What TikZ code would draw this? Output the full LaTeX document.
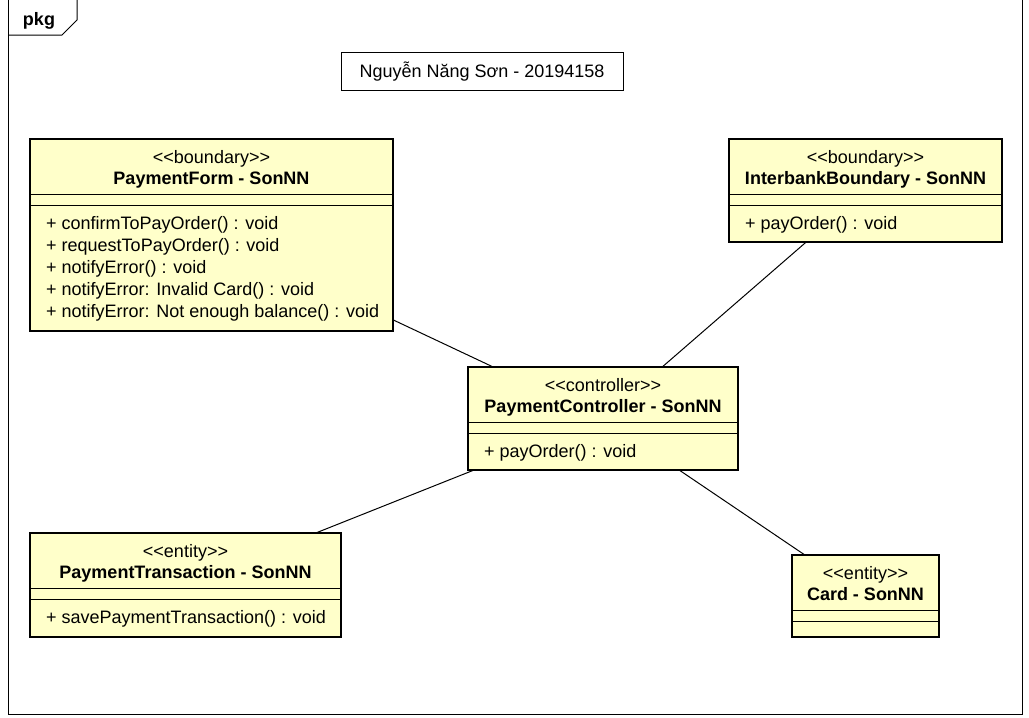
\documentclass[tikz,border=0pt]{standalone}
\usepackage{fontspec}
\setmainfont{Liberation Sans}
\definecolor{classfill}{HTML}{FFFFCA}
\tikzset{
  classbox/.style={draw=black, line width=2pt, fill=classfill, rectangle, inner sep=0pt, outer sep=0pt},
  sepline/.style={draw=black, line width=1pt},
  conn/.style={draw=black, line width=1pt},
  frameline/.style={draw=black, line width=1pt},
  txt/.style={inner sep=0pt, anchor=base, font=\fontsize{18}{21}\selectfont},
  btxt/.style={inner sep=0pt, anchor=base, font=\fontsize{18}{21}\selectfont\bfseries},
  mtxt/.style={inner sep=0pt, anchor=base west, font=\fontsize{18}{21}\selectfont},
}
\newcommand{\stereo}[1]{<\kern0pt<#1>\kern0pt>}
\begin{document}
\begin{tikzpicture}[x=1pt,y=-1pt]
\useasboundingbox (0,0) rectangle (1029,718);
\fill[white] (0,0) rectangle (1029,718);
% frame
\draw[frameline] (8,0) -- (8,714) -- (1022,714) -- (1022,0);
\draw[frameline] (8,35) -- (62,35) -- (77,20) -- (77,0);
\node[btxt] (pkg) at (39,25) {pkg};
% name box
\node[draw=black, line width=1pt, fill=white, minimum width=282pt, minimum height=38pt, inner sep=0pt] (author) at (482,71) {};
\node[txt] (authortxt) at (482,77.5) {Nguyễn Năng Sơn - 20194158};
% class boxes
\node[classbox, minimum width=363pt, minimum height=192pt] (pf) at (211.5,235) {};
\node[classbox, minimum width=273pt, minimum height=103pt] (ib) at (865.5,190.5) {};
\node[classbox, minimum width=270pt, minimum height=103pt] (pc) at (603,418.5) {};
\node[classbox, minimum width=311pt, minimum height=104pt] (pt) at (185.5,585) {};
\node[classbox, minimum width=147pt, minimum height=82pt] (card) at (865.5,596) {};
% connectors
\draw[conn] (pf) -- (pc);
\draw[conn] (ib) -- (pc);
\draw[conn] (pt) -- (pc);
\draw[conn] (card) -- (pc);
% PaymentForm
\node[txt] (pfs) at (211.5,163) {\stereo{boundary}};
\node[btxt] (pfn) at (211.5,184.5) {PaymentForm - SonNN};
\draw[sepline] (30,194) -- (393,194);
\draw[sepline] (30,205) -- (393,205);
\node[mtxt] (pfm1) at (46,229) {+ confirmToPayOrder() : void};
\node[mtxt] (pfm2) at (46,251) {+ requestToPayOrder() : void};
\node[mtxt] (pfm3) at (46,273) {+ notifyError() : void};
\node[mtxt] (pfm4) at (46,295) {+ notifyError: Invalid Card() : void};
\node[mtxt] (pfm5) at (46,317) {+ notifyError: Not enough balance() : void};
% InterbankBoundary
\node[txt] (ibs) at (865.5,163) {\stereo{boundary}};
\node[btxt] (ibn) at (865.5,184.5) {InterbankBoundary - SonNN};
\draw[sepline] (729,194) -- (1002,194);
\draw[sepline] (729,205) -- (1002,205);
\node[mtxt] (ibm1) at (745,229) {+ payOrder() : void};
% PaymentController
\node[txt] (pcs) at (603,391) {\stereo{controller}};
\node[btxt] (pcn) at (603,412.5) {PaymentController - SonNN};
\draw[sepline] (468,422) -- (738,422);
\draw[sepline] (468,433) -- (738,433);
\node[mtxt] (pcm1) at (484,457) {+ payOrder() : void};
% PaymentTransaction
\node[txt] (pts) at (185.5,557) {\stereo{entity}};
\node[btxt] (ptn) at (185.5,578.5) {PaymentTransaction - SonNN};
\draw[sepline] (30,588) -- (341,588);
\draw[sepline] (30,599) -- (341,599);
\node[mtxt] (ptm1) at (46,623) {+ savePaymentTransaction() : void};
% Card
\node[txt] (cards) at (865.5,579) {\stereo{entity}};
\node[btxt] (cardn) at (865.5,600.5) {Card - SonNN};
\draw[sepline] (792,610) -- (939,610);
\draw[sepline] (792,621) -- (939,621);
\end{tikzpicture}
\end{document}
